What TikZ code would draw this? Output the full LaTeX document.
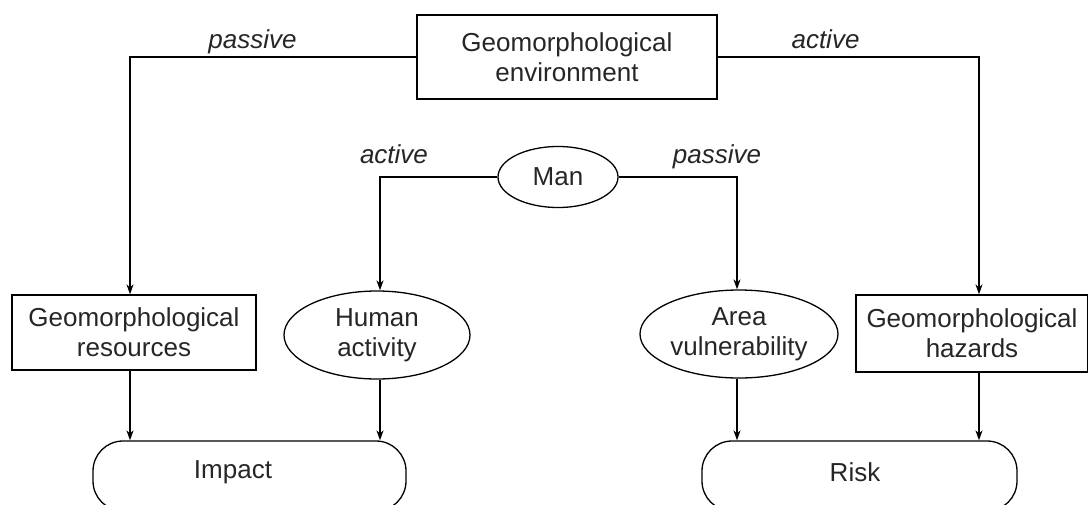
\documentclass[tikz,border=0pt]{standalone}
\usepackage{fontspec}
\setmainfont{Liberation Sans}
\usetikzlibrary{arrows.meta,shapes.geometric}
\begin{document}
\begin{tikzpicture}[x=1pt,y=-1pt,
  every node/.style={font=\fontsize{26}{30}\selectfont, text=black!85},
  box/.style={draw, line width=1.3pt, align=center, inner sep=0pt},
  oval/.style={draw, ellipse, line width=1.3pt, align=center, inner sep=0pt},
  rbox/.style={draw, rounded corners=30pt, line width=1.3pt, inner sep=0pt},
  conn/.style={line width=1.5pt, -{Stealth[length=10pt,width=7pt]}},
  lbl/.style={font=\fontsize{26}{30}\selectfont\itshape, anchor=base}]
\useasboundingbox (0,0) rectangle (1088,504);
\node[box, minimum width=300pt, minimum height=84pt] (env) at (567,57) {Geomorphological\\environment};
\node[box, minimum width=244pt, minimum height=75pt] (res) at (134,332.5) {Geomorphological\\resources};
\node[box, minimum width=232pt, minimum height=77pt] (haz) at (972,333.5) {Geomorphological\\hazards};
\node[oval, minimum width=120pt, minimum height=61pt] (man) at (558,177) {Man};
\node[oval, minimum width=186pt, minimum height=88pt] (hum) at (377,335) {Human\\activity};
\node[oval, minimum width=198pt, minimum height=88pt] (area) at (739,334) {Area\\vulnerability};
\node[rbox, minimum width=313pt, minimum height=70pt] (imp) at (249.5,476) {};
\node (impt) at (233,472) {Impact};
\node[rbox, minimum width=315pt, minimum height=70pt] (risk) at (859.5,476) {};
\node (riskt) at (855,472) {Risk};
\node[lbl] (l1) at (252.5,48) {passive};
\node[lbl] (l2) at (825.5,48) {active};
\node[lbl] (l3) at (394,163) {active};
\node[lbl] (l4) at (717,163) {passive};
\draw[conn] (env.west) -| ([xshift=-4pt]res.north);
\draw[conn] (env.east) -| ([xshift=7pt]haz.north);
\draw[conn] (man.west) -| ([xshift=3pt]hum.north);
\draw[conn] (man.east) -| ([xshift=-2pt]area.north);
\draw[conn] ([xshift=-4pt]res.south) -- ([xshift=-4pt]res.south |- imp.north);
\draw[conn] ([xshift=3pt]hum.south) -- ([xshift=3pt]hum.south |- imp.north);
\draw[conn] ([xshift=-2pt]area.south) -- ([xshift=-2pt]area.south |- risk.north);
\draw[conn] ([xshift=7pt]haz.south) -- ([xshift=7pt]haz.south |- risk.north);
\end{tikzpicture}
\end{document}
